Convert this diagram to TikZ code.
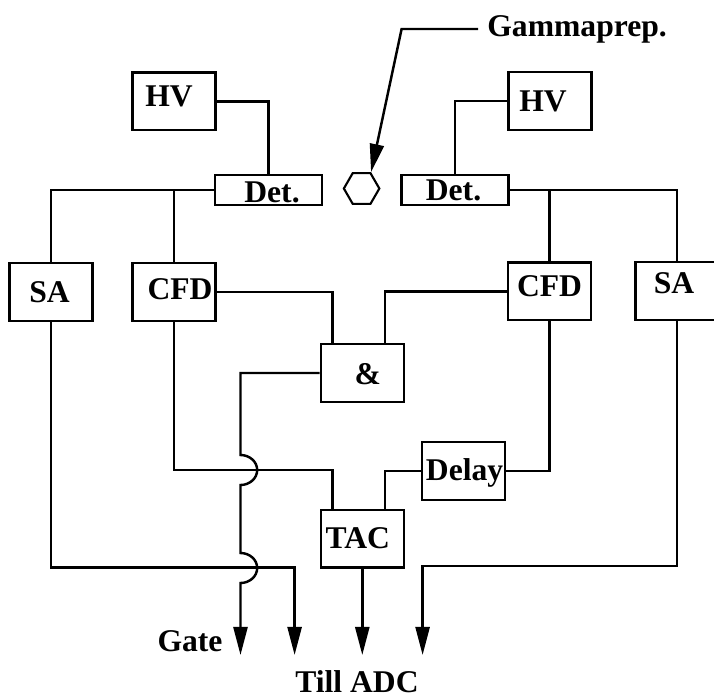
\documentclass[tikz,border=0pt]{standalone}
\usepackage{fontspec}
\setmainfont{Liberation Serif}
\usetikzlibrary{arrows.meta,shapes.geometric}
\tikzset{
  boxfont/.style={font=\fontsize{18}{20}\selectfont\bfseries},
  unit/.style={draw,line width=1.3pt,minimum width=1.66cm,minimum height=1.15cm,inner sep=0pt},
  detector/.style={unit,minimum width=2.14cm,minimum height=0.61cm},
  every label/.style={boxfont,inner sep=0pt},
  wire/.style={line width=1.4pt},
  outwire/.style={wire,-{Triangle[length=16pt,width=8pt]}}
}
\begin{document}
\begin{tikzpicture}[x=0.02cm,y=-0.02cm]
\clip (0,0) rectangle (714,698);
% boxes
\node[unit,label={[xshift=-0.1cm,yshift=0.09cm]center:HV}] (hvl) at (174,101.3) {};
\node[unit,label={[xshift=-0.14cm]center:HV}] (hvr) at (550,101) {};
\node[detector,label={[xshift=0.07cm,yshift=-0.05cm]center:Det.}] (detl) at (268.5,190) {};
\node[detector,label={[xshift=-0.03cm]center:Det.}] (detr) at (455,190) {};
\node[draw,regular polygon,regular polygon sides=6,minimum size=0.71cm,inner sep=0pt,line width=1.2pt] (hexa) at (361.6,188.5) {};
\node[unit,label={[xshift=-0.03cm,yshift=-0.01cm]center:SA}] (sal) at (51,292) {};
\node[unit,label={[xshift=0.12cm,yshift=0.06cm]center:CFD}] (cfdl) at (174,292) {};
\node[unit,label={[yshift=0.11cm]center:CFD}] (cfdr) at (549.5,291.3) {};
\node[unit,label={[xshift=-0.06cm,yshift=0.15cm]center:SA}] (sar) at (677,291) {};
\node[unit,label={[xshift=0.11cm,yshift=-0.02cm]center:\&}] (and) at (362.3,373) {};
\node[unit,label={[xshift=0.02cm,yshift=-0.04cm]center:Delay}] (delay) at (463.6,471) {};
\node[unit,label={[xshift=-0.09cm,yshift=0.01cm]center:TAC}] (tac) at (362.3,538.7) {};
% texts
\node[boxfont,anchor=west,inner ysep=0pt,inner xsep=0.18cm] (gamma) at (478,29) {Gammaprep.};
\node[boxfont,inner sep=0pt] (gate) at (190,640.7) {Gate};
\node[boxfont,inner sep=0pt] (till) at (357,682) {Till ADC};
% free ends
\coordinate (andin1) at (332.4,345);
\coordinate (andin2) at (385,345);
\coordinate (tacin1) at (332.4,510);
\coordinate (tacin2) at (385,510);
\coordinate (end1) at (240.5,655);
\coordinate (end2) at (294.6,655);
\coordinate (end3) at (362.3,655);
\coordinate (end4) at (422.6,655);
% connections
\draw[outwire] (gamma.west) -- (401.6,29) -- (hexa.60);
\draw[wire] (hvl.east) -| (detl.north);
\draw[wire] (hvr.west) -| (detr.north);
\draw[wire] (detl.west) -| (sal.north);
\draw[wire] (cfdl.north) -- (cfdl.north |- detl.west);
\draw[wire] (detr.east) -| (sar.north);
\draw[wire] (cfdr.north) -- (cfdr.north |- detr.east);
\draw[wire] (cfdl.east) -| (andin1);
\draw[wire] (cfdr.west) -| (andin2);
\draw[wire] (cfdl.south) |- (332.4,470) -- (tacin1);
\draw[wire] (cfdr.south) |- (delay.east);
\draw[wire] (delay.west) -| (tacin2);
\draw[outwire] (sal.south) |- (294.6,567.7) -- (end2);
\draw[outwire] (sar.south) |- (422.6,566) -- (end4);
\draw[outwire] (tac.south) -- (end3);
\draw[outwire] (and.west) -| (240.5,455) arc[start angle=-90,end angle=90,x radius=16.7,y radius=15] -- (240.5,553) arc[start angle=-90,end angle=90,x radius=16.7,y radius=15] -- (end1);
\end{tikzpicture}
\end{document}
